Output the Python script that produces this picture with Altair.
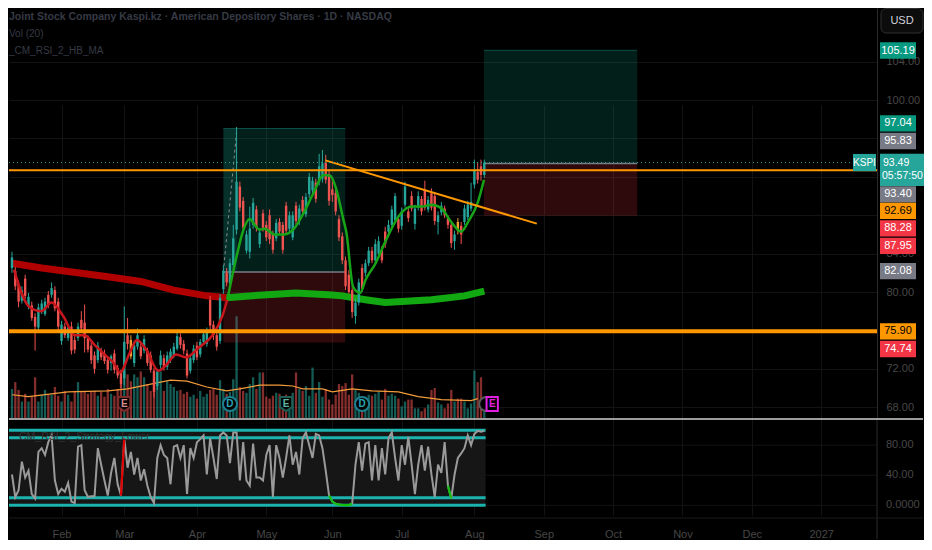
import altair as alt
import pandas as pd

# ---------------- data ----------------
opens = [82.5, 82.2, 80.8, 79.1, 81.4, 78.5, 78.6, 77.4, 76.3, 78.0,
         77.7, 79.7, 79.7, 80.2, 79.0, 74.9, 76.4, 75.2, 76.4, 75.0,
         75.2, 77.1, 76.8, 75.2, 74.4, 73.4, 72.9, 73.9, 73.6, 72.9,
         72.6, 73.6, 72.1, 71.6, 71.0, 75.5, 75.0, 72.6, 74.3, 74.3,
         73.9, 73.9, 73.4, 71.8, 70.2, 72.4, 73.1, 72.2, 72.9, 73.4,
         74.1, 75.3, 74.6, 73.6, 71.8, 72.9, 74.4, 73.5, 74.8, 74.6,
         79.2, 76.6, 75.5, 74.9, 80.3, 82.0, 80.9, 82.8, 86.5, 91.0,
         89.5, 84.3, 84.2, 87.0, 88.6, 85.0, 88.2, 87.0, 88.0, 86.0,
         85.6, 87.3, 87.0, 89.0, 86.6, 85.7, 89.0, 87.4, 89.6, 88.1,
         90.2, 90.6, 91.4, 91.5, 91.8, 93.5, 92.3, 90.7, 90.3, 87.6,
         85.8, 83.3, 81.8, 80.2, 77.5, 78.9, 82.5, 82.0, 83.0, 84.3,
         83.3, 84.0, 84.3, 86.3, 86.3, 87.0, 87.5, 87.6, 86.9, 89.1,
         88.4, 90.0, 87.1, 88.8, 89.7, 90.6, 88.6, 90.3, 90.0, 87.3,
         88.3, 88.7, 87.7, 87.0, 85.3, 87.3, 86.9, 87.3, 87.8, 88.7,
         91.2, 92.5, 93.1, 92.2]
highs = [84.2, 82.6, 81.2, 80.6, 81.8, 79.9, 79.0, 77.8, 78.8, 79.2,
         79.4, 80.1, 81.0, 80.6, 79.4, 77.0, 76.8, 76.6, 76.9, 75.4,
         76.8, 78.0, 78.7, 75.5, 74.8, 73.8, 74.8, 74.2, 74.0, 73.2,
         73.5, 74.0, 72.4, 71.9, 78.5, 77.3, 75.5, 74.9, 76.2, 74.8,
         75.5, 74.2, 73.8, 72.1, 72.0, 73.9, 73.5, 73.8, 74.1, 74.7,
         75.8, 75.7, 75.0, 74.0, 73.5, 74.5, 74.8, 75.1, 76.0, 76.3,
         79.6, 77.0, 75.8, 79.8, 82.8, 82.5, 83.5, 87.0, 97.2, 91.5,
         89.9, 86.4, 88.9, 89.8, 89.0, 86.6, 88.6, 87.4, 88.6, 86.4,
         87.6, 87.7, 87.3, 89.4, 88.4, 88.4, 89.4, 89.1, 90.0, 90.3,
         92.4, 92.0, 91.8, 94.4, 94.8, 94.3, 92.8, 91.8, 90.7, 88.0,
         86.2, 83.7, 82.3, 80.6, 79.3, 81.4, 82.9, 83.4, 84.7, 84.7,
         85.5, 85.8, 84.8, 86.8, 87.5, 89.0, 90.3, 88.0, 88.8, 91.5,
         88.8, 90.5, 89.1, 90.5, 90.0, 91.6, 90.0, 90.8, 90.4, 88.4,
         89.4, 89.0, 88.0, 87.3, 86.4, 87.7, 87.3, 89.1, 89.5, 91.4,
         93.8, 93.5, 93.8, 93.8]
lows = [82.0, 80.2, 78.4, 78.8, 79.3, 78.2, 77.0, 73.9, 76.0, 77.7,
        77.5, 78.3, 79.4, 78.0, 76.0, 74.5, 75.2, 74.9, 73.5, 73.6,
        74.9, 75.9, 73.7, 73.7, 72.5, 71.5, 72.6, 72.9, 72.5, 71.5,
        71.8, 71.5, 71.0, 70.0, 70.3, 74.0, 73.0, 72.2, 74.0, 73.0,
        73.6, 72.3, 71.6, 69.0, 69.8, 72.0, 71.8, 71.9, 72.6, 73.1,
        73.9, 74.1, 73.5, 71.0, 71.5, 72.6, 72.9, 73.2, 74.5, 74.3,
        76.0, 75.0, 73.9, 74.6, 79.8, 80.6, 80.5, 82.4, 86.0, 88.4,
        86.3, 84.0, 83.5, 86.6, 86.3, 84.6, 86.3, 85.3, 85.0, 84.0,
        85.3, 86.0, 84.0, 86.0, 86.2, 85.4, 87.0, 87.0, 88.0, 87.8,
        89.8, 90.3, 89.3, 91.1, 91.4, 91.3, 89.0, 89.4, 88.0, 85.3,
        82.9, 80.2, 79.8, 77.3, 76.7, 78.6, 80.0, 81.6, 82.7, 83.0,
        83.0, 83.7, 83.0, 84.6, 86.0, 86.7, 87.2, 86.2, 86.5, 88.8,
        87.3, 88.4, 86.5, 88.5, 88.0, 88.5, 88.3, 88.5, 87.0, 86.0,
        88.0, 87.7, 86.6, 84.6, 84.4, 86.0, 85.0, 87.0, 87.5, 88.4,
        90.8, 91.3, 91.6, 91.9]
closes = [83.6, 80.6, 79.0, 80.2, 79.6, 79.5, 77.3, 76.4, 78.4, 78.8,
          79.0, 78.6, 80.4, 78.3, 76.4, 76.6, 75.5, 76.3, 73.9, 74.0,
          76.4, 76.2, 75.2, 74.0, 72.9, 72.0, 74.4, 73.2, 72.8, 71.9,
          73.3, 71.9, 71.3, 70.4, 74.8, 74.6, 73.3, 74.4, 75.5, 73.3,
          75.1, 72.6, 71.9, 69.6, 71.7, 73.4, 72.2, 73.4, 73.8, 74.3,
          75.4, 74.5, 73.9, 71.3, 73.1, 74.1, 73.2, 74.8, 75.6, 75.9,
          76.5, 75.5, 74.3, 79.4, 82.2, 81.0, 83.0, 85.6, 91.5, 88.8,
          86.7, 86.0, 86.6, 89.3, 86.7, 86.2, 86.7, 85.7, 85.5, 84.4,
          87.2, 86.3, 84.4, 86.4, 88.0, 88.0, 87.4, 88.7, 88.4, 89.9,
          92.0, 91.6, 89.7, 93.1, 93.4, 91.7, 89.5, 90.1, 88.4, 85.7,
          83.3, 80.6, 80.0, 77.9, 78.9, 81.0, 80.3, 83.0, 84.3, 83.3,
          85.0, 85.3, 83.3, 85.0, 87.0, 88.6, 90.0, 86.6, 88.4, 91.0,
          87.7, 88.7, 88.7, 90.0, 88.4, 88.8, 89.6, 88.8, 87.4, 88.0,
          89.0, 88.0, 87.0, 85.1, 86.0, 86.4, 86.0, 88.7, 89.1, 89.4,
          92.7, 91.7, 92.2, 93.49]
# volume in thousands of shares
volumes = [300, 370, 290, 170, 250, 170, 220, 420, 170, 240,
           290, 240, 240, 320, 230, 170, 280, 240, 170, 280,
           370, 280, 280, 250, 270, 280, 230, 270, 220, 300,
           250, 230, 300, 350, 480, 450, 380, 450, 420, 480,
           420, 350, 280, 420, 350, 480, 280, 380, 350, 320,
           280, 290, 250, 270, 220, 240, 200, 280, 220, 250,
           290, 300, 240, 390, 300, 250, 270, 400, 1050, 320,
           280, 260, 350, 420, 300, 470, 470, 220, 200, 230,
           260, 250, 210, 240, 220, 260, 470, 300, 280, 330,
           230, 520, 260, 370, 220, 300, 190, 140, 240, 350,
           330, 360, 240, 450, 290, 260, 190, 220, 240, 230,
           250, 270, 190, 300, 230, 250, 230, 200, 120, 170,
           190, 190, 100, 100, 70, 100, 140, 290, 310, 160,
           140, 100, 150, 290, 170, 200, 200, 170, 100, 150,
           490, 370, 420, 150]
rsi = [41, 11, 20, 58, 37, 46, 15, 9, 71, 76,
       67, 84, 93, 33, 15, 22, 18, 30, 5, 3,
       78, 80, 20, 11, 12, 12, 76, 54, 33, 13,
       43, 63, 28, 13, 89, 50, 71, 41, 63, 33,
       48, 26, 11, 3, 63, 80, 67, 63, 28, 78,
       80, 63, 80, 15, 76, 63, 84, 88, 93, 41,
       89, 63, 35, 93, 97, 93, 56, 97, 97, 33,
       84, 33, 26, 82, 37, 37, 33, 67, 80, 11,
       80, 63, 37, 63, 93, 54, 71, 41, 89, 97,
       80, 63, 95, 93, 76, 46, 13, 5, 2, 1,
       0.5, 0.3, 0.3, 2, 54, 84, 46, 82, 84, 33,
       80, 33, 76, 41, 89, 97, 63, 33, 80, 54,
       91, 54, 15, 54, 80, 46, 78, 41, 11, 54,
       43, 84, 26, 9, 41, 63, 69, 76, 93, 80,
       95, 99, 98, 99]
highlight_bars = [36, 135]
rsi_red_runs = [(33, 34)]
rsi_green_runs = [(96, 103), (132, 133)]

month_ticks = [15, 34, 56, 77, 97, 118, 140, 161, 182, 203, 224, 245]
month_labels = ["Feb", "Mar", "Apr", "May", "Jun", "Jul", "Aug", "Sep", "Oct", "Nov", "Dec", "2027"]
price_ticks = [68, 72, 76, 80, 84, 88, 92, 96, 100, 104]
price_labelled = [68, 72, 80, 84, 100, 104]
rsi_ticks = [0, 40, 80]
rsi_bands = [100, 90, 10, 0]

ma200_red_i = [0, 9, 29, 39, 49, 59, 65]
ma200_red_p = [83.0, 82.5, 81.6, 81.1, 80.2, 79.6, 79.4]
ma200_green_i = [65, 76, 86, 97, 100, 107, 113, 127, 137, 143]
ma200_green_p = [79.4, 79.7, 79.9, 79.7, 79.6, 79.2, 78.9, 79.2, 79.6, 80.1]

ema_red_i = [0.6, 5.1, 8.9, 11.9, 15.5, 19, 22, 25, 28, 31, 32.7, 35.7, 37.8, 40.8,
             44.3, 46.7, 49.7, 52.7, 56.5, 60.7, 63.7, 65.2]
ema_red_p = [82.3, 78.5, 78.0, 78.9, 77.5, 75.5, 75.5, 74.5, 73.5, 72.5, 71.6, 73.7, 75.0, 73.9,
             71.8, 72.4, 73.5, 73.2, 74.2, 75.5, 77.5, 79.2]
ema_green_i = [65.2, 68.2, 69.9, 72, 73.5, 75, 76.5, 79.5, 82.4, 85.4, 88.4, 91.4, 94.3, 96.4,
               98.2, 100.3, 101.2, 103.3, 105.4, 107.1, 110.1, 113.1, 117.3, 121.1, 124.1,
               127.1, 130.1, 133, 136, 138.1, 141.1, 142.9]
ema_green_p = [79.2, 84.0, 86.3, 87.6, 87.0, 86.5, 86.6, 86.0, 86.0, 86.6, 88.3, 90.4, 92.2, 92.1,
               90.7, 87.6, 86.3, 80.5, 79.9, 81.3, 83.0, 85.3, 88.0, 88.9, 88.9,
               89.1, 88.7, 87.3, 86.3, 87.3, 89.4, 91.7]

vma_i = [0, 5, 17, 29, 35, 42, 48, 53, 59, 65, 69, 75, 81, 85, 88, 94, 97, 103, 109, 117, 123, 130, 139, 141]
vma_v = [240, 220, 270, 280, 300, 350, 390, 380, 320, 280, 300, 340, 340, 330, 300, 300, 270, 300,
         280, 270, 220, 190, 180, 200]

pos_start = [64.0, 142.9]
pos_end = [100.9, 189.3]
pos_target = [97.04, 105.19]
pos_entry = [82.08, 93.40]
pos_stop = [74.74, 87.95]
arrow_i = [64.0, 68.1]
arrow_p = [82.08, 97.04]

level_prices = [92.69, 75.90]
trend_i = [94.9, 158.9]
trend_p = [93.72, 87.13]

events_i = [34, 66, 83, 106, 143.6, 145.4]
events_text = ["E", "D", "E", "D", "", "E"]
events_kind = ["earn_down", "dividend", "earn_up", "dividend", "split", "earn_next"]

tag_values = [105.19, 97.04, 95.83, 93.40, 92.69, 88.28, 87.95, 82.08, 75.90, 74.74]
tag_at = [105.17, 97.57, 95.74, 90.17, 88.45, 86.63, 84.80, 82.17, 75.89, 74.06]
tag_kind = ["target", "target", "grey", "grey", "orange", "red", "red", "grey", "orange", "red"]
countdown = "05:57:50"
symbol = "KSPI"

header_lines = ["Joint Stock Company Kaspi.kz · American Depository Shares · 1D · NASDAQ",
                "Vol (20)", "_CM_RSI_2_HB_MA"]
rsi_title = "CM_RSI_2_Strategy_Lower"
currency = "USD"

# ---------------- styling ----------------
W = 868           # plot width
HM = 410          # main pane bottom
RT, RB = 412, 507  # RSI pane top / bottom
H = RB
X_DOMAIN = [-0.9, 261.9]
P_DOMAIN = [66.87, 109.6]
R_DOMAIN = [-12.9, 113.5]
FONT = "Liberation Sans, Arial, sans-serif"
UP, DOWN, HILITE = "#26a69a", "#ef5350", "#f0a030"
GRID, SEP, AXTXT = "#131313", "#2a2a2a", "#474747"
ORANGE = "#ff9800"
TAG_FILL = {"target": "#089981", "grey": "#787b86", "orange": "#ff9800", "red": "#f23645"}
TAG_TEXT = {"target": "#ffffff", "grey": "#ffffff", "orange": "#000000", "red": "#ffffff"}
SHIELD = "M-0.85,-1L0.85,-1L0.85,0.45L0,1L-0.85,0.45Z"
EV_SHAPE = {"earn_down": SHIELD, "earn_up": SHIELD, "dividend": "circle", "split": "circle",
            "earn_next": "M-0.8,-1L0.8,-1L0.8,1L-0.8,1Z"}
EV_STROKE = {"earn_down": "#7d2c2c", "dividend": "#1d7f8f", "earn_up": "#1e5e52", "split": "#5a5a5a",
             "earn_next": "#e11de1"}
EV_TEXT = {"earn_down": "#d98b8b", "dividend": "#2aa5b8", "earn_up": "#5fb3a2", "split": "#8a8a8a",
           "earn_next": "#e11de1"}

n = len(closes)
bars = pd.DataFrame({"i": list(range(n)), "o": opens, "h": highs, "l": lows,
                     "c": closes, "v": volumes})
bars["col"] = [HILITE if k in highlight_bars else (UP if c >= o else DOWN)
               for k, o, c in zip(range(n), opens, closes)]
bars["vcol"] = [UP if c >= o else DOWN for o, c in zip(opens, closes)]

xs = alt.Scale(domain=X_DOMAIN, nice=False, zero=False, padding=0)
ps = alt.Scale(domain=P_DOMAIN, range=[HM, 0], nice=False, zero=False, padding=0)
vs = alt.Scale(domain=[0, 4230], range=[HM, 0], nice=False, zero=True, padding=0)
rs = alt.Scale(domain=R_DOMAIN, range=[RB, RT], nice=False, zero=False, padding=0)

months_js = "[" + ",".join("'%s'" % m for m in month_labels) + "]"
ticks_js = "[" + ",".join(str(t) for t in month_ticks) + "]"
shown_js = "[" + ",".join(str(t) for t in price_labelled) + "]"
x_axis = alt.Axis(values=month_ticks, labelExpr=f"{months_js}[indexof({ticks_js}, datum.value)]",
                  ticks=False, domain=False, grid=True, gridColor=GRID, title=None,
                  labelColor=AXTXT, labelFont=FONT, labelFontSize=11, labelPadding=13, zindex=0)
price_axis = alt.Axis(orient="right", values=price_ticks, title=None, grid=True,
                      labelExpr=f"indexof({shown_js}, datum.value) >= 0 ? format(datum.value, '.2f') : ''",
                      gridColor=GRID, ticks=False, domainColor=SEP, labelColor=AXTXT,
                      labelFont=FONT, labelFontSize=11, labelPadding=9, zindex=0)


def PX(f):
    return alt.X(f"{f}:Q", scale=xs, axis=x_axis)


def PY(f):
    return alt.Y(f"{f}:Q", scale=ps, axis=price_axis)


def VY(f):
    return alt.Y(f"{f}:Q", scale=vs, axis=None)


def RY(f):
    return alt.Y(f"{f}:Q", scale=rs, axis=None)


# ---------------- volume ----------------
vol_bars = alt.Chart(bars).mark_bar(size=2.3, opacity=0.55).encode(
    x=PX("i"), y=VY("v"), color=alt.Color("vcol:N", scale=None))
vma = alt.Chart(pd.DataFrame({"i": vma_i, "v": vma_v})).mark_line(
    color="#f39c3a", strokeWidth=1.2).encode(x=PX("i"), y=VY("v"))
vol_layer = alt.layer(vol_bars, vma)

# ---------------- price pane ----------------
pos = pd.DataFrame({"s": pos_start, "e": pos_end, "tp": pos_target, "en": pos_entry, "sl": pos_stop})
box_green = alt.Chart(pos).mark_rect(color="#089981", opacity=0.2).encode(
    x=PX("s"), x2="e", y=PY("en"), y2="tp")
box_red = alt.Chart(pos).mark_rect(color="#f23645", opacity=0.19).encode(
    x=PX("s"), x2="e", y=PY("sl"), y2="en")
box_entry = alt.Chart(pos).mark_rule(color="#787b86", strokeWidth=1.5).encode(
    x=PX("s"), x2="e", y=PY("en"))
box_top = alt.Chart(pos).mark_rule(color="#0b4f46", strokeWidth=1).encode(
    x=PX("s"), x2="e", y=PY("tp"))
strip = alt.Chart(pd.DataFrame({"a": [arrow_i[0]], "b": [arrow_i[1]],
                                "en": [pos_entry[0]], "tp": [pos_target[0]]})).mark_rect(
    color="#26a69a", opacity=0.13).encode(x=PX("a"), x2="b", y=PY("en"), y2="tp")
arrow = alt.Chart(pd.DataFrame({"i": arrow_i, "p": arrow_p})).mark_line(
    color="#8a8a8a", strokeWidth=1, strokeDash=[3, 3]).encode(x=PX("i"), y=PY("p"))

ma_red = alt.Chart(pd.DataFrame({"i": ma200_red_i, "p": ma200_red_p})).mark_line(
    color="#b00000", strokeWidth=7).encode(x=PX("i"), y=PY("p"))
ma_green = alt.Chart(pd.DataFrame({"i": ma200_green_i, "p": ma200_green_p})).mark_line(
    color="#12a812", strokeWidth=7).encode(x=PX("i"), y=PY("p"))

wicks = alt.Chart(bars).mark_rule(strokeWidth=1).encode(
    x=PX("i"), y=PY("l"), y2="h", color=alt.Color("col:N", scale=None))
bodies = alt.Chart(bars).mark_bar(size=2.4).encode(
    x=PX("i"), y=PY("o"), y2="c", color=alt.Color("col:N", scale=None))

ema_red = alt.Chart(pd.DataFrame({"i": ema_red_i, "p": ema_red_p})).mark_line(
    color="#c8161d", strokeWidth=2.5, interpolate="monotone").encode(x=PX("i"), y=PY("p"))
ema_green = alt.Chart(pd.DataFrame({"i": ema_green_i, "p": ema_green_p})).mark_line(
    color="#17a417", strokeWidth=2.5, interpolate="monotone").encode(x=PX("i"), y=PY("p"))

lev1 = alt.Chart(pd.DataFrame({"p": [level_prices[0]]})).mark_rule(
    color=ORANGE, strokeWidth=2).encode(x=alt.value(0), x2=alt.value(W), y=PY("p"))
lev2 = alt.Chart(pd.DataFrame({"p": [level_prices[1]]})).mark_rule(
    color=ORANGE, strokeWidth=4).encode(x=alt.value(0), x2=alt.value(W), y=PY("p"))
trend = alt.Chart(pd.DataFrame({"i": trend_i, "p": trend_p})).mark_line(
    color=ORANGE, strokeWidth=2).encode(x=PX("i"), y=PY("p"))
last_df = pd.DataFrame({"p": [closes[-1]], "lbl": ["%.2f" % closes[-1]], "cd": [countdown],
                        "sym": [symbol]})
dotted = alt.Chart(last_df).mark_rule(color=UP, strokeWidth=1, strokeDash=[1, 3]).encode(
    x=alt.value(0), x2=alt.value(W), y=PY("p"))

ev = pd.DataFrame({"i": events_i, "t": events_text, "kind": events_kind})
ev["shp"] = ev["kind"].map(EV_SHAPE)
ev["stk"] = ev["kind"].map(EV_STROKE)
ev["tc"] = ev["kind"].map(EV_TEXT)
ev_marks = alt.Chart(ev).mark_point(fill="#000000", fillOpacity=1, strokeWidth=2, size=200,
                                    opacity=1).encode(
    x=PX("i"), y=alt.value(HM - 14),
    shape=alt.Shape("shp:N", scale=None), stroke=alt.Stroke("stk:N", scale=None))
ev_text = alt.Chart(ev).mark_text(fontSize=10, fontWeight="bold", font=FONT).encode(
    x=PX("i"), y=alt.value(HM - 14), text="t:N", color=alt.Color("tc:N", scale=None))

tags = pd.DataFrame({"at": tag_at, "kind": tag_kind, "lbl": ["%.2f" % v for v in tag_values]})
tags["fill"] = tags["kind"].map(TAG_FILL)
tags["tcol"] = tags["kind"].map(TAG_TEXT)
tag_rect = alt.Chart(tags).transform_calculate(
    top="datum.at + 0.85", bot="datum.at - 0.85").mark_rect().encode(
    x=alt.value(W + 3), x2=alt.value(W + 39), y=PY("top"), y2="bot",
    color=alt.Color("fill:N", scale=None))
tag_text = alt.Chart(tags).mark_text(fontSize=11, font=FONT, align="center", baseline="middle").encode(
    x=alt.value(W + 21), y=PY("at"), text="lbl:N", color=alt.Color("tcol:N", scale=None))
last_rect = alt.Chart(last_df).transform_calculate(
    top="datum.p + 0.93", bot="datum.p - 2.45").mark_rect(color=UP).encode(
    x=alt.value(W + 3), x2=alt.value(W + 47), y=PY("top"), y2="bot")
last_txt = alt.Chart(last_df).mark_text(fontSize=10.5, font=FONT, color="#ffffff", align="left",
                                        baseline="middle").encode(
    x=alt.value(W + 6), y=PY("p"), text="lbl:N")
cd_txt = alt.Chart(last_df).transform_calculate(q="datum.p - 1.45").mark_text(
    fontSize=10.5, font=FONT, color="#ffffff", align="left", baseline="middle").encode(
    x=alt.value(W + 5), y=PY("q"), text="cd:N")
sym_rect = alt.Chart(last_df).transform_calculate(
    top="datum.p + 0.9", bot="datum.p - 0.9").mark_rect(color=UP).encode(
    x=alt.value(W - 24), x2=alt.value(W - 1), y=PY("top"), y2="bot")
sym_txt = alt.Chart(last_df).mark_text(fontSize=10, font=FONT, color="#ffffff",
                                       align="center", baseline="middle").encode(
    x=alt.value(W - 12.5), y=PY("p"), text="sym:N")

cur_df = pd.DataFrame({"t": [currency]})
usd_box = alt.Chart(cur_df).mark_rect(fill="#0c0c0c", stroke="#303030", strokeWidth=1,
                                      cornerRadius=5).encode(
    x=alt.value(W + 4), x2=alt.value(W + 46), y=alt.value(0.5), y2=alt.value(25))
usd_txt = alt.Chart(cur_df).mark_text(fontSize=11, font=FONT, color="#d1d4dc").encode(
    x=alt.value(W + 25), y=alt.value(13), text="t:N")

head = []
for k, line in enumerate(header_lines):
    head.append(alt.Chart(pd.DataFrame({"t": [line]})).mark_text(
        align="left", baseline="middle", font=FONT, fontSize=10.5 if k == 0 else 10,
        fontWeight="bold" if k == 0 else "normal",
        color="#363a45").encode(x=alt.value(0), y=alt.value(9 + 17 * k), text="t:N"))

price_layer = alt.layer(
    box_green, box_red, strip, box_entry, box_top, arrow,
    ma_red, ma_green, wicks, bodies, ema_red, ema_green,
    lev2, lev1, trend, dotted, ev_marks, ev_text,
    tag_rect, tag_text, last_rect, last_txt, cd_txt, sym_rect, sym_txt,
    usd_box, usd_txt, *head)

# ---------------- RSI pane ----------------
rdf = pd.DataFrame({"i": list(range(n)), "r": rsi})
seg_rows = []
for name, runs, colr in (("red", rsi_red_runs, "#e00000"), ("green", rsi_green_runs, "#10c010")):
    for k, (a, b) in enumerate(runs):
        for j in range(a, b + 1):
            seg_rows.append({"i": j, "r": rsi[j], "run": f"{name}{k}", "col": colr})
segs = pd.DataFrame(seg_rows)
rt = pd.DataFrame({"v": rsi_ticks,
                   "lbl": ["0.0000" if v == 0 else "%.2f" % v for v in rsi_ticks]})

sep = alt.Chart(pd.DataFrame({"t": [0]})).mark_rule(color="#d0d0d0", strokeWidth=1.5).encode(
    x=alt.value(0), x2=alt.value(W + 46), y=alt.value(HM + 1))
vsep = alt.Chart(pd.DataFrame({"t": [0]})).mark_rule(color=SEP, strokeWidth=1).encode(
    x=alt.value(W), y=alt.value(RT), y2=alt.value(H + 24))
bsep = alt.Chart(pd.DataFrame({"t": [0]})).mark_rule(color="#1a1a1a", strokeWidth=1).encode(
    x=alt.value(0), x2=alt.value(W + 46), y=alt.value(RB + 3))
rgrid = alt.Chart(rt).mark_rule(color=GRID, strokeWidth=1).encode(
    x=alt.value(0), x2=alt.value(W), y=RY("v"))
rlab = alt.Chart(rt).mark_text(align="left", baseline="middle", font=FONT, fontSize=11,
                               color=AXTXT).encode(x=alt.value(W + 9), y=RY("v"), text="lbl:N")
bg = alt.Chart(pd.DataFrame({"a": [X_DOMAIN[0]], "b": [n - 1 + 0.4],
                             "lo": [min(rsi_bands)], "hi": [max(rsi_bands)]})).mark_rect(
    color="#161616").encode(x=PX("a"), x2="b", y=RY("lo"), y2="hi")
bands = alt.Chart(pd.DataFrame({"band": rsi_bands, "a": X_DOMAIN[0], "b": n - 1 + 0.4})).mark_rule(
    color="#1cb2ae", strokeWidth=3).encode(x=PX("a"), x2="b", y=RY("band"))
rsi_line = alt.Chart(rdf).mark_line(color="#9a9a9a", strokeWidth=2).encode(x=PX("i"), y=RY("r"))
rsi_segs = alt.Chart(segs).mark_line(strokeWidth=2.2).encode(
    x=PX("i"), y=RY("r"), detail="run:N", color=alt.Color("col:N", scale=None))
rsi_lbl = alt.Chart(pd.DataFrame({"t": [rsi_title]})).mark_text(
    align="left", baseline="middle", font=FONT, fontSize=10.5, color="#333333").encode(
    x=alt.value(10), y=alt.value(RT + 17), text="t:N")

rsi_layer = alt.layer(rgrid, bg, bands, rsi_line, rsi_segs, rsi_lbl, rlab, sep, vsep, bsep)

chart = alt.layer(vol_layer, price_layer, rsi_layer).resolve_scale(y="independent").properties(
    width=W, height=H, padding={"left": -11, "top": 0, "right": 0, "bottom": 0}).configure(
    background="#000000", font=FONT).configure_view(strokeWidth=0)

chart.save("out.html", embed_options={"renderer": "svg", "actions": False})
